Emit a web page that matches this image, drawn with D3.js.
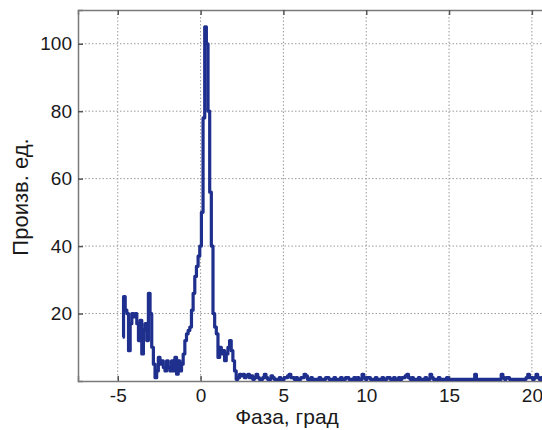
<!DOCTYPE html>
<html>
<head>
<meta charset="utf-8">
<script src="https://cdn.jsdelivr.net/npm/d3@7"></script>
<style>
  body { margin: 0; background: #fff; }
  svg { display: block; font-family: "Liberation Sans", Arial, sans-serif; }
</style>
</head>
<body>
<div id="chart"></div>
<script>
// histogram bins: first bin centre and bin width (deg)
const phaseStart = -4.7;
const phaseStep = 0.1;
// counts per bin
const counts = [
  13, 25, 21, 20, 9, 17, 20, 19,
  20, 17, 12, 18, 8, 15, 17, 12, 26, 20,
  10, 5, 1, 3, 7, 5, 6, 4, 3, 6,
  4, 3, 6, 3, 7, 2, 6, 3, 5, 8,
  12, 14, 15, 16, 21, 26, 31, 34, 37, 40,
  50, 78, 105, 100, 80, 56, 40, 20, 16, 14,
  7, 10, 8, 9, 6, 8, 10, 12, 9, 6,
  3, 0.5, 1, 2, 1.5, 2, 1, 1.5, 2, 1,
  1.5, 0.5, 1, 2, 1, 0.5, 0.5, 1, 2, 1,
  0.5, 0.5, 1.5, 1, 0.5, 0.5, 0.5, 1, 0.5, 0.5,
  1, 1, 1.5, 2, 1, 1, 0.5, 1, 0.5, 0.5,
  1, 1, 2, 1.5, 0.5, 0.5, 1, 0.5, 0.5, 0.5,
  0.5, 1, 0.5, 0.5, 0.5, 1, 1, 0.5, 0.5, 0.5,
  1, 0.5, 0.5, 0.5, 1, 0.5, 0.5, 1, 1, 0.5,
  0.5, 0.5, 1, 0.5, 1, 0.5, 0.5, 2, 1, 0.5,
  1, 1, 0.5, 0.5, 0.5, 1, 0.5, 0.5, 0.5, 1,
  0.5, 0.5, 1, 1, 0.5, 0.5, 1, 0.5, 0.5, 1,
  0.5, 1, 1, 1.5, 2, 1, 0.5, 1, 0.5, 0.5,
  0.5, 1, 0.5, 0.5, 0.5, 1, 0.5, 0.5, 2, 1,
  0.5, 0.5, 0.5, 1, 0.5, 0.5, 0.5, 0.5, 1, 0.5,
  0.5, 0.5, 0.5, 0.5, 0.5, 0.5, 0.5, 0.5, 0.5, 0.5,
  0.5, 0.5, 0.5, 0.5, 0.5, 2, 0.5, 0.5, 0.5, 0.5,
  0.5, 0.5, 0.5, 0.5, 0.5, 0.5, 0.5, 0.5, 0.5, 0.5,
  0.5, 2, 1, 0.5, 1, 1, 0.5, 0.5, 0.5, 0.5,
  0.5, 0.5, 0.5, 0.5, 0.5, 0.5, 1, 2, 1, 1,
  0.5, 1, 2, 1, 0.5, 1, 1, 2, 1, 1
];
const xTicks = [-5, 0, 5, 10, 15, 20];
const yTicks = [20, 40, 60, 80, 100];
const xLabel = 'Фаза, град';
const yLabel = 'Произв. ед.';

const W = 542, H = 430;
const plotLeft = 78, plotTop = 10, plotBottom = 381, plotRight = 565;

const x = d3.scaleLinear().domain([-7.4, 22]).range([plotLeft, plotRight]);
const y = d3.scaleLinear().domain([0, 110]).range([plotBottom, plotTop]);

const svg = d3.select('#chart').append('svg')
  .attr('width', W)
  .attr('height', H);

// grid (dotted)
svg.append('g')
  .selectAll('line')
  .data(xTicks)
  .join('line')
  .attr('x1', d => x(d)).attr('x2', d => x(d))
  .attr('y1', plotTop).attr('y2', plotBottom)
  .attr('stroke', '#9a9a9a').attr('stroke-width', 1)
  .attr('stroke-dasharray', '1.5,2');
svg.append('g')
  .selectAll('line')
  .data(yTicks)
  .join('line')
  .attr('x1', plotLeft).attr('x2', plotRight)
  .attr('y1', d => y(d)).attr('y2', d => y(d))
  .attr('stroke', '#9a9a9a').attr('stroke-width', 1)
  .attr('stroke-dasharray', '1.5,2');

// axes, MATLAB style with inward ticks
const xAxisB = d3.axisBottom(x).tickValues(xTicks).tickSize(-5).tickPadding(8)
  .tickFormat(d => d < 0 ? '-' + Math.abs(d) : d);
const xAxisT = d3.axisTop(x).tickValues(xTicks).tickSize(-5).tickFormat('');
const yAxis = d3.axisLeft(y).tickValues(yTicks).tickSize(-5).tickPadding(6);

const gxb = svg.append('g').attr('transform', `translate(0,${plotBottom})`).call(xAxisB);
const gxt = svg.append('g').attr('transform', `translate(0,${plotTop})`).call(xAxisT);
const gy = svg.append('g').attr('transform', `translate(${plotLeft},0)`).call(yAxis);

[gxb, gxt, gy].forEach(g => {
  g.select('.domain').attr('stroke', '#7a7a7a').attr('stroke-width', 1.5);
  g.selectAll('.tick line').attr('stroke', '#555').attr('stroke-width', 1.5);
  g.selectAll('.tick text')
    .attr('fill', '#1a1a1a')
    .attr('font-size', 19)
    .attr('font-family', '"Liberation Sans", Arial, sans-serif');
});

// the histogram trace
const line = d3.line()
  .x((d, i) => x(phaseStart + i * phaseStep))
  .y(d => y(d))
  .curve(d3.curveStep);

svg.append('path')
  .datum(counts)
  .attr('d', line)
  .attr('fill', 'none')
  .attr('stroke', '#1f2f8e')
  .attr('stroke-width', 3.2)
  .attr('stroke-linejoin', 'round');

// axis labels
svg.append('text')
  .attr('x', 287)
  .attr('y', 424)
  .attr('text-anchor', 'middle')
  .attr('font-size', 21)
  .attr('fill', '#1a1a1a')
  .text(xLabel);

svg.append('text')
  .attr('transform', 'translate(28,197) rotate(-90)')
  .attr('text-anchor', 'middle')
  .attr('font-size', 22)
  .attr('fill', '#1a1a1a')
  .text(yLabel);
</script>
</body>
</html>
